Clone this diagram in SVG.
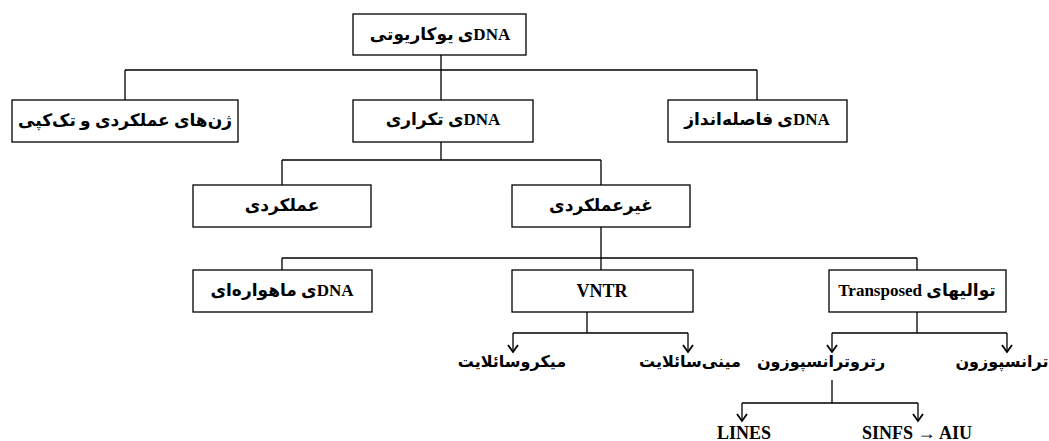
<svg xmlns="http://www.w3.org/2000/svg" width="1049" height="441" viewBox="0 0 1049 441">
<style>
.box{fill:#fff;stroke:#000;stroke-width:1.3}
.ln{fill:none;stroke:#000;stroke-width:1.3}
.t{font-family:"Liberation Serif","DejaVu Sans",serif;font-weight:bold;font-size:17px;fill:#000;text-anchor:middle}
.s{font-size:16px}
.l{font-size:18px}
.r{direction:rtl}
</style>
<defs>
<marker id="ah" viewBox="-8 -6 10 12" markerWidth="10" markerHeight="12" refX="0" refY="0" orient="auto" markerUnits="userSpaceOnUse">
<path d="M-7,-5 L0,0 L-7,5" fill="none" stroke="#000" stroke-width="1.8"/>
</marker>
</defs>
<rect width="1049" height="441" fill="#fff"/>
<g id="connectors">
<path class="ln" d="M441,55 V70 M125,70 H757 M125,70 V100 M441,70 V100 M757,70 V100"/>
<path class="ln" d="M441,142 V160 M282,160 H601 M282,160 V185 M601,160 V185"/>
<path class="ln" d="M601,227 V258 M282,258 H917 M282,258 V270 M601,258 V270 M917,258 V270"/>
<path class="ln" d="M587,312 V333 M513,333 H688 M917,312 V333 M832,333 H1007 M832,380 V403 M742,403 H918"/>
<path class="ln" d="M513,333 V352" marker-end="url(#ah)"/>
<path class="ln" d="M688,333 V352" marker-end="url(#ah)"/>
<path class="ln" d="M832,333 V352" marker-end="url(#ah)"/>
<path class="ln" d="M1007,333 V352" marker-end="url(#ah)"/>
<path class="ln" d="M742,403 V421" marker-end="url(#ah)"/>
<path class="ln" d="M918,403 V421" marker-end="url(#ah)"/>
</g>
<g id="n-eukaryotic">
<rect class="box" x="353" y="14" width="173" height="41"/>
<text class="t r" x="440" y="40">DNAی یوکاریوتی</text>
</g>
<g id="n-genes">
<rect class="box" x="12" y="100" width="226" height="42"/>
<text class="t r" x="125" y="126">ژن‌های عملکردی و تک‌کپی</text>
</g>
<g id="n-repetitive">
<rect class="box" x="353" y="100" width="180" height="42"/>
<text class="t r" x="443" y="125">DNAی تکراری</text>
</g>
<g id="n-spacer">
<rect class="box" x="668" y="100" width="179" height="42"/>
<text class="t r" x="757" y="125">DNAی فاصله‌انداز</text>
</g>
<g id="n-functional">
<rect class="box" x="193" y="185" width="178" height="42"/>
<text class="t r" x="282" y="211">عملکردی</text>
</g>
<g id="n-nonfunctional">
<rect class="box" x="512" y="185" width="178" height="42"/>
<text class="t r" x="601" y="211">غیرعملکردی</text>
</g>
<g id="n-satellite">
<rect class="box" x="193" y="270" width="179" height="42"/>
<text class="t r" x="282" y="296">DNAی ماهواره‌ای</text>
</g>
<g id="n-vntr">
<rect class="box" x="512" y="270" width="181" height="42"/>
<text class="t l" x="602" y="297">VNTR</text>
</g>
<g id="n-transposed">
<rect class="box" x="829" y="270" width="177" height="42"/>
<text class="t r" x="917" y="296">توالیهای Transposed</text>
</g>
<g id="n-micro">
<text class="t s r" x="512" y="367">میکروسائلایت</text>
</g>
<g id="n-mini">
<text class="t s r" x="690" y="367">مینی‌سائلایت</text>
</g>
<g id="n-retro">
<text class="t s r" x="821" y="367">رتروترانسپوزون</text>
</g>
<g id="n-transposon">
<text class="t s r" x="1002" y="367">ترانسپوزون</text>
</g>
<g id="n-lines">
<text class="t l" x="744" y="439">LINES</text>
</g>
<g id="n-sines">
<text class="t l" x="917" y="439">SINFS → AIU</text>
</g>
</svg>
